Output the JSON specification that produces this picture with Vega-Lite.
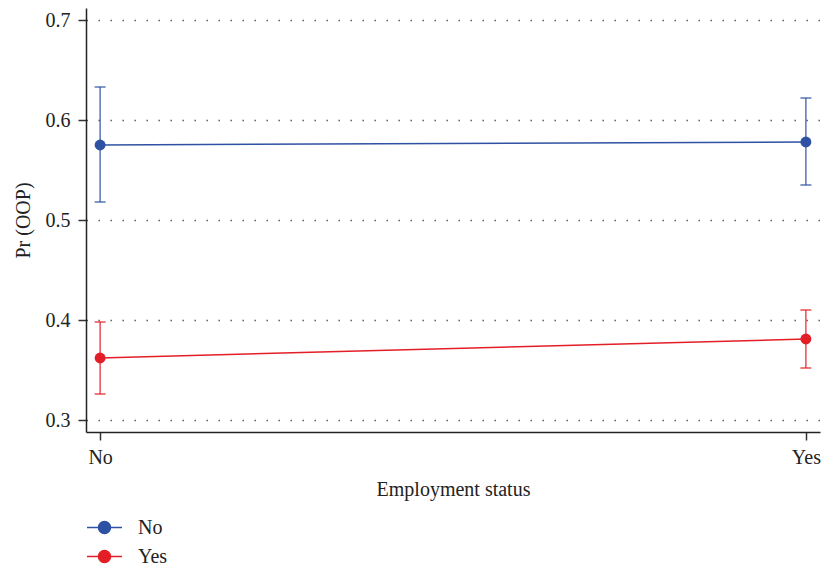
{
  "$schema": "https://vega.github.io/schema/vega-lite/v6.json",
  "autosize": {"type": "none"},
  "width": 734,
  "height": 424,
  "padding": {"left": 86, "top": 8, "right": 1, "bottom": 134},
  "background": "white",
  "config": {
    "font": "Liberation Serif",
    "view": {"stroke": null},
    "axis": {
      "labelFont": "Liberation Serif",
      "titleFont": "Liberation Serif",
      "labelFontSize": 20,
      "titleFontSize": 20,
      "labelColor": "#222",
      "titleColor": "#222",
      "titleFontWeight": "normal",
      "domainColor": "#222",
      "domainWidth": 1.5,
      "tickColor": "#333",
      "tickWidth": 1.5,
      "tickSize": 8
    },
    "legend": {"labelFont": "Liberation Serif", "labelFontSize": 20, "labelColor": "#222"}
  },
  "data": {
    "values": [
      {"employed": "No", "group": "No", "pr": 0.575, "lo": 0.518, "hi": 0.633},
      {"employed": "Yes", "group": "No", "pr": 0.578, "lo": 0.535, "hi": 0.622},
      {"employed": "No", "group": "Yes", "pr": 0.362, "lo": 0.326, "hi": 0.398},
      {"employed": "Yes", "group": "Yes", "pr": 0.381, "lo": 0.352, "hi": 0.410}
    ]
  },
  "encoding": {
    "x": {
      "field": "employed",
      "type": "nominal",
      "scale": {"type": "point", "domain": ["No", "Yes"], "padding": 0.02},
      "axis": {
        "title": "Employment status",
        "labelAngle": 0,
        "labelPadding": 7,
        "titleY": 57,
        "titleBaseline": "middle",
        "grid": false
      }
    },
    "color": {
      "field": "group",
      "type": "nominal",
      "scale": {"domain": ["No", "Yes"], "range": ["#2f51a3", "#e41e26"]},
      "legend": {
        "title": null,
        "orient": "none",
        "legendX": 0,
        "legendY": 501,
        "padding": 0,
        "symbolType": "M-1,0L1,0M-0.343,0A0.343,0.343,0,1,1,0.343,0A0.343,0.343,0,1,1,-0.343,0Z",
        "symbolSize": 1225,
        "symbolStrokeWidth": 1.5,
        "symbolOpacity": 1,
        "labelOffset": 15,
        "rowPadding": -8,
        "encode": {
          "symbols": {
            "update": {
              "fill": {"scale": "color", "field": "value"},
              "stroke": {"scale": "color", "field": "value"},
              "opacity": {"value": 1}
            }
          }
        }
      }
    }
  },
  "layer": [
    {
      "mark": {"type": "rule", "strokeWidth": 1.4, "opacity": 0.85},
      "encoding": {
        "y": {
          "field": "lo",
          "type": "quantitative",
          "scale": {"domain": [0.288, 0.712], "nice": false, "zero": false},
          "axis": {
            "title": "Pr (OOP)",
            "values": [0.3, 0.4, 0.5, 0.6, 0.7],
            "format": ".1f",
            "labelPadding": 8,
            "titleX": -63,
            "titleY": 212,
            "titleBaseline": "middle",
            "grid": true,
            "gridColor": "#444",
            "gridWidth": 1.3,
            "gridDash": [1.3, 10.7]
          }
        },
        "y2": {"field": "hi"}
      }
    },
    {
      "mark": {"type": "tick", "size": 11, "thickness": 1.4, "opacity": 0.85},
      "encoding": {"y": {"field": "lo", "type": "quantitative"}}
    },
    {
      "mark": {"type": "tick", "size": 11, "thickness": 1.4, "opacity": 0.85},
      "encoding": {"y": {"field": "hi", "type": "quantitative"}}
    },
    {
      "mark": {"type": "line", "strokeWidth": 1.5},
      "encoding": {"y": {"field": "pr", "type": "quantitative"}}
    },
    {
      "mark": {"type": "point", "filled": true, "opacity": 1, "size": 120},
      "encoding": {"y": {"field": "pr", "type": "quantitative"}}
    }
  ]
}
